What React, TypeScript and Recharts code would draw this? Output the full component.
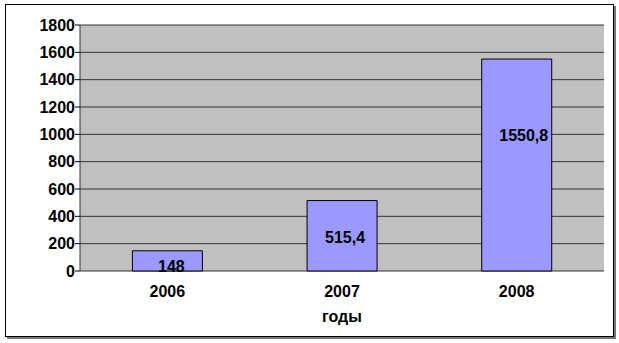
import { BarChart, Bar, XAxis, YAxis, CartesianGrid, LabelList } from 'recharts';

const years = ['2006', '2007', '2008'];
const values = [148, 515.4, 1550.8];
const yTicks = [0, 200, 400, 600, 800, 1000, 1200, 1400, 1600, 1800];
const edgeTicks = [0, 1, 2, 3];

// label nudges inside the bars (px), same order as years
const labelDx = [4, 3, 7];
const labelDy = [5.5, 1.5, -30];

const data = years.map((year, i) => ({ year, value: values[i] }));

const font = '"Liberation Sans", Arial, sans-serif';
const tickStyle = { fontSize: 16, fontWeight: 'bold', fill: '#000', fontFamily: font };

const renderLabel = (props: any) => {
  const { x, y, width, height, value, index } = props;
  return (
    <text
      x={x + width / 2 + labelDx[index]}
      y={y + height / 2 + labelDy[index]}
      textAnchor="middle"
      dominantBaseline="central"
      style={tickStyle}
    >
      {String(value).replace('.', ',')}
    </text>
  );
};

export default function App() {
  return (
    <div style={{ position: 'absolute', left: 0, top: 0, width: 619, height: 343, background: '#fff' }}>
      <div
        style={{
          position: 'absolute',
          left: 5,
          top: 4,
          width: 607,
          height: 331,
          border: '1px solid #000',
          boxShadow: '2px 2px 0 #777',
        }}
      />
      <div style={{ position: 'absolute', left: 0, top: 0 }}>
        <BarChart
          width={619}
          height={343}
          data={data}
          margin={{ top: 25, right: 15, left: 0, bottom: 0 }}
          barCategoryGap="30%"
        >
          <CartesianGrid vertical={false} stroke="#333" fill="#C0C0C0" fillOpacity={1} />
          <XAxis
            xAxisId="edges"
            type="number"
            domain={[0, 3]}
            ticks={edgeTicks}
            allowDataOverflow
            height={0}
            tickSize={5}
            tick={() => <g />}
            tickLine={{ stroke: '#000' }}
            axisLine={{ stroke: '#000' }}
          />
          <XAxis
            dataKey="year"
            height={72}
            tickLine={false}
            axisLine={false}
            tickSize={6}
            tickMargin={9}
            tick={tickStyle}
            label={{ value: 'годы', position: 'insideBottom', offset: 21, style: tickStyle }}
          />
          <YAxis
            width={80}
            domain={[0, 1800]}
            ticks={yTicks}
            tickSize={5}
            tickMargin={0}
            tick={tickStyle}
            tickLine={{ stroke: '#000' }}
            axisLine={{ stroke: '#333' }}
          />
          <YAxis
            yAxisId="r"
            orientation="right"
            width={0}
            domain={[0, 1800]}
            tick={false}
            tickLine={false}
            axisLine={{ stroke: '#808080' }}
          />
          <Bar dataKey="value" fill="#9999FF" stroke="#000" strokeWidth={1} isAnimationActive={false}>
            <LabelList dataKey="value" content={renderLabel} />
          </Bar>
        </BarChart>
      </div>
    </div>
  );
}
